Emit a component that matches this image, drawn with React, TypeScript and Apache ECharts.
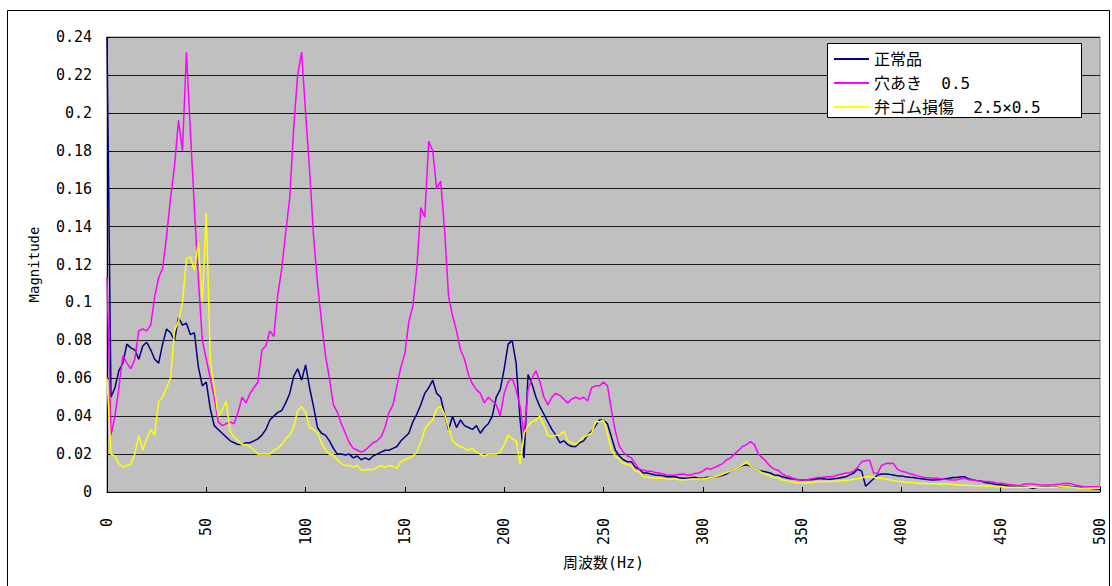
import React, { useEffect, useRef } from "react";
import * as echarts from "echarts";

const FREQ_STEP = 2; // Hz between samples, 0..500

const normal: number[] = [
  0.24, 0.05, 0.055, 0.064, 0.068, 0.078, 0.076, 0.075, 0.07, 0.077,
  0.079, 0.075, 0.07, 0.068, 0.078, 0.086, 0.084, 0.08, 0.092, 0.088,
  0.089, 0.083, 0.084, 0.066, 0.056, 0.058, 0.044, 0.035, 0.033, 0.031,
  0.029, 0.027, 0.026, 0.025, 0.025, 0.026, 0.026, 0.027, 0.028, 0.03,
  0.033, 0.038, 0.04, 0.042, 0.043, 0.047, 0.052, 0.061, 0.065, 0.059,
  0.067, 0.055, 0.045, 0.034, 0.031, 0.03, 0.027, 0.023, 0.02, 0.02,
  0.0195, 0.02, 0.018, 0.019, 0.017, 0.018, 0.017, 0.019, 0.02, 0.021,
  0.022, 0.022, 0.023, 0.024, 0.027, 0.029, 0.031, 0.037, 0.041, 0.046,
  0.052, 0.055, 0.059, 0.052, 0.05, 0.041, 0.033, 0.04, 0.034, 0.038,
  0.035, 0.034, 0.033, 0.035, 0.031, 0.034, 0.036, 0.04, 0.05, 0.054,
  0.065, 0.078, 0.08, 0.068, 0.038, 0.018, 0.062, 0.057, 0.05, 0.045,
  0.041, 0.037, 0.033, 0.03, 0.026, 0.027, 0.025, 0.024, 0.024, 0.026,
  0.027, 0.03, 0.032, 0.035, 0.038, 0.038, 0.036, 0.029, 0.022, 0.019,
  0.017, 0.016, 0.016, 0.013, 0.012, 0.01, 0.01, 0.0095, 0.009, 0.0088,
  0.0086, 0.008, 0.0081, 0.008, 0.0075, 0.0072, 0.0072, 0.0075, 0.0078, 0.0072,
  0.0073, 0.0078, 0.0077, 0.008, 0.0082, 0.0088, 0.0095, 0.011, 0.012, 0.013,
  0.014, 0.0143, 0.0137, 0.012, 0.0115, 0.011, 0.0105, 0.01, 0.009, 0.0088,
  0.008, 0.0075, 0.007, 0.0068, 0.0065, 0.0063, 0.0064, 0.0064, 0.0066, 0.007,
  0.007, 0.0068, 0.0067, 0.007, 0.0072, 0.0077, 0.008, 0.009, 0.01, 0.012,
  0.011, 0.003, 0.005, 0.007, 0.009, 0.0095, 0.0095, 0.0093, 0.009, 0.0085,
  0.0085, 0.008, 0.0078, 0.0077, 0.0073, 0.007, 0.0067, 0.0064, 0.0063, 0.0064,
  0.0066, 0.007, 0.0072, 0.0077, 0.0077, 0.008, 0.008, 0.0068, 0.0065, 0.006,
  0.0058, 0.005, 0.0048, 0.0043, 0.004, 0.0038, 0.0035, 0.003, 0.003, 0.0028,
  0.0028, 0.0028, 0.0025, 0.0019, 0.0024, 0.0026, 0.0028, 0.0028, 0.0025, 0.0028,
  0.0028, 0.003, 0.003, 0.0028, 0.0026, 0.0025, 0.0022, 0.002, 0.0018, 0.0016,
  0.0014,
];

const hole: number[] = [
  0.113, 0.03, 0.04, 0.055, 0.072, 0.068, 0.065, 0.07, 0.085, 0.086,
  0.085, 0.088, 0.103, 0.113, 0.118, 0.135, 0.155, 0.172, 0.196, 0.18,
  0.232, 0.19, 0.15, 0.112, 0.08, 0.07, 0.06, 0.05, 0.037, 0.035,
  0.036, 0.037, 0.036, 0.042, 0.05, 0.047, 0.052, 0.055, 0.058, 0.075,
  0.077, 0.085, 0.082, 0.104, 0.118, 0.137, 0.155, 0.192, 0.22, 0.232,
  0.2, 0.17, 0.135, 0.11, 0.09, 0.072, 0.06, 0.046, 0.042, 0.036,
  0.031, 0.026, 0.023, 0.022, 0.021, 0.022, 0.024, 0.026, 0.027, 0.029,
  0.034, 0.042, 0.046, 0.056, 0.066, 0.073, 0.09, 0.098, 0.118, 0.15,
  0.145, 0.185, 0.18, 0.16, 0.164, 0.138, 0.103, 0.093, 0.085, 0.075,
  0.07, 0.062, 0.057, 0.054, 0.052, 0.047, 0.05, 0.048, 0.046, 0.04,
  0.052, 0.058, 0.06, 0.054, 0.045, 0.03, 0.054, 0.06, 0.064, 0.058,
  0.05, 0.046, 0.05, 0.052, 0.051, 0.049, 0.047, 0.049, 0.05, 0.049,
  0.05, 0.048, 0.055, 0.056, 0.056, 0.058, 0.056, 0.043, 0.032, 0.024,
  0.021, 0.019, 0.018, 0.015, 0.012, 0.0116, 0.011, 0.011, 0.0103, 0.01,
  0.0095, 0.009, 0.0088, 0.009, 0.0093, 0.0095, 0.009, 0.009, 0.0098, 0.01,
  0.011, 0.0125, 0.012, 0.013, 0.014, 0.015, 0.017, 0.018, 0.02, 0.022,
  0.024, 0.025, 0.0266, 0.025, 0.02, 0.018, 0.016, 0.0135, 0.012, 0.0115,
  0.0095, 0.0085, 0.008, 0.007, 0.0065, 0.0063, 0.0065, 0.0068, 0.0072, 0.0077,
  0.0077, 0.008, 0.008, 0.0083, 0.009, 0.0095, 0.01, 0.0102, 0.011, 0.013,
  0.016, 0.0165, 0.0168, 0.01, 0.0098, 0.014, 0.015, 0.0152, 0.015, 0.012,
  0.011, 0.0105, 0.0098, 0.0092, 0.0085, 0.008, 0.0077, 0.0075, 0.0072, 0.0072,
  0.007, 0.0067, 0.0065, 0.0063, 0.0065, 0.007, 0.0072, 0.0065, 0.0063, 0.006,
  0.0058, 0.0055, 0.0055, 0.0053, 0.0048, 0.0046, 0.0043, 0.004, 0.0038, 0.0034,
  0.0034, 0.0042, 0.0042, 0.0042, 0.004, 0.0037, 0.0037, 0.0037, 0.0037, 0.004,
  0.0042, 0.0045, 0.0046, 0.0042, 0.0035, 0.0032, 0.0028, 0.0028, 0.0028, 0.0028,
  0.0028,
];

const valveRubber: number[] = [
  0.06, 0.02, 0.019, 0.015, 0.013, 0.014, 0.0145, 0.02, 0.03, 0.022,
  0.028, 0.033, 0.03, 0.048, 0.05, 0.055, 0.06, 0.085, 0.09, 0.1,
  0.123, 0.124, 0.117, 0.132, 0.1, 0.147, 0.07, 0.055, 0.04, 0.043,
  0.048, 0.032, 0.029, 0.027, 0.025, 0.025, 0.024, 0.022, 0.02, 0.02,
  0.02, 0.02, 0.022, 0.023, 0.025, 0.028, 0.03, 0.034, 0.043, 0.045,
  0.042, 0.034, 0.033, 0.031, 0.026, 0.022, 0.02, 0.0195, 0.017, 0.015,
  0.014, 0.014, 0.013, 0.014, 0.0116, 0.0116, 0.012, 0.0118, 0.013, 0.014,
  0.013, 0.014, 0.0135, 0.0125, 0.016, 0.017, 0.018, 0.019, 0.021, 0.026,
  0.033, 0.036, 0.038, 0.044, 0.045, 0.041, 0.034, 0.027, 0.025, 0.024,
  0.023, 0.022, 0.023, 0.021, 0.02, 0.019, 0.02, 0.02, 0.02, 0.021,
  0.025, 0.03, 0.028, 0.027, 0.015, 0.031, 0.035, 0.037, 0.038, 0.04,
  0.035, 0.03, 0.029, 0.03, 0.03, 0.032, 0.027, 0.026, 0.025, 0.027,
  0.029, 0.03, 0.031, 0.037, 0.037, 0.038, 0.031, 0.022, 0.019, 0.017,
  0.015, 0.0145, 0.014, 0.011, 0.0105, 0.0082, 0.0078, 0.0075, 0.0072, 0.0072,
  0.0072, 0.0068, 0.0067, 0.007, 0.0065, 0.0063, 0.0066, 0.0067, 0.0068, 0.0069,
  0.007, 0.0072, 0.0077, 0.008, 0.0085, 0.0095, 0.0102, 0.011, 0.012, 0.013,
  0.0143, 0.016, 0.0137, 0.012, 0.0115, 0.01, 0.0093, 0.0085, 0.0077, 0.0072,
  0.0063, 0.006, 0.0055, 0.005, 0.0048, 0.0046, 0.0048, 0.005, 0.0053, 0.0055,
  0.0055, 0.0055, 0.0055, 0.0058, 0.0058, 0.006, 0.0062, 0.0063, 0.0068, 0.007,
  0.0075, 0.008, 0.008, 0.0078, 0.0073, 0.0072, 0.0068, 0.0065, 0.006, 0.0057,
  0.0055, 0.005, 0.005, 0.005, 0.0047, 0.0045, 0.0045, 0.0043, 0.0043, 0.0042,
  0.0043, 0.0042, 0.0042, 0.004, 0.0038, 0.0037, 0.0036, 0.0034, 0.0034, 0.0033,
  0.0033, 0.0032, 0.003, 0.003, 0.0028, 0.0028, 0.0026, 0.0025, 0.0025, 0.0025,
  0.0025, 0.0025, 0.0025, 0.0025, 0.0025, 0.0025, 0.0025, 0.0025, 0.0025, 0.0025,
  0.0028, 0.0028, 0.0028, 0.0025, 0.0022, 0.002, 0.002, 0.002, 0.002, 0.002,
  0.002,
];

const seriesNames = ["正常品", "穴あき  0.5", "弁ゴム損傷  2.5×0.5"];
const seriesColors = ["#000080", "#ff00ff", "#ffff00"];
const xTitle = "周波数(Hz)";
const yTitle = "Magnitude";

const MONO = "'DejaVu Sans Mono', 'Noto Sans CJK JP', monospace";

function pairs(vals: number[]): [number, number][] {
  return vals.map((v, i) => [i * FREQ_STEP, v]);
}

export default function App() {
  const ref = useRef<HTMLDivElement>(null);
  useEffect(() => {
    if (!ref.current) return;
    const chart = echarts.init(ref.current, null, { renderer: "svg" });
    const allData = [normal, hole, valveRubber];
    chart.setOption({
      animation: false,
      backgroundColor: "#ffffff",
      grid: {
        left: 107,
        top: 37,
        right: 12,
        bottom: 94,
        show: true,
        backgroundColor: "#c0c0c0",
        borderColor: "#808080",
        borderWidth: 1,
      },
      legend: {
        orient: "vertical",
        left: 834,
        top: 51,
        padding: 0,
        itemGap: 8,
        itemWidth: 35,
        itemHeight: 2,
        icon: "rect",
        data: seriesNames,
        textStyle: {
          color: "#000",
          fontFamily: MONO,
          fontSize: 16,
          lineHeight: 16,
        },
      },
      xAxis: {
        type: "value",
        min: 0,
        max: 500,
        interval: 50,
        name: xTitle,
        nameLocation: "middle",
        nameGap: 63,
        nameTextStyle: { color: "#000", fontFamily: MONO, fontSize: 15 },
        axisLine: { show: true, lineStyle: { color: "#000", width: 1 } },
        axisTick: { show: true, inside: true, length: 5, lineStyle: { color: "#000" } },
        axisLabel: {
          rotate: 90,
          margin: 26,
          color: "#000",
          fontFamily: MONO,
          fontSize: 15,
        },
        splitLine: { show: false },
      },
      yAxis: {
        type: "value",
        min: 0,
        max: 0.24,
        interval: 0.02,
        name: yTitle,
        nameLocation: "middle",
        nameGap: 66,
        nameTextStyle: { color: "#000", fontFamily: MONO, fontSize: 14 },
        axisLine: { show: true, lineStyle: { color: "#000", width: 1 } },
        axisTick: { show: true, inside: true, length: 4, lineStyle: { color: "#000" } },
        axisLabel: {
          margin: 15,
          color: "#000",
          fontFamily: MONO,
          fontSize: 15,
        },
        splitLine: { show: true, lineStyle: { color: "#1a1a1a", width: 1.2 } },
      },
      graphic: [
        {
          type: "rect",
          shape: { x: 7.5, y: 10.5, width: 1102, height: 620 },
          style: { fill: "none", stroke: "#000", lineWidth: 1 },
          silent: true,
          z: 1,
        },
        {
          type: "rect",
          shape: { x: 827.5, y: 43.5, width: 254, height: 74 },
          style: { fill: "#ffffff", stroke: "#000", lineWidth: 1 },
          silent: true,
          z: 3,
        },
      ],
      series: allData.map((d, i) => ({
        name: seriesNames[i],
        type: "line",
        data: pairs(d),
        showSymbol: false,
        symbol: "none",
        color: seriesColors[i],
        lineStyle: { color: seriesColors[i], width: 1.5 },
        z: 2,
      })),
    });
    return () => chart.dispose();
  }, []);
  return (
    <div
      ref={ref}
      style={{ position: "absolute", left: 0, top: 0, width: 1112, height: 586 }}
    />
  );
}
